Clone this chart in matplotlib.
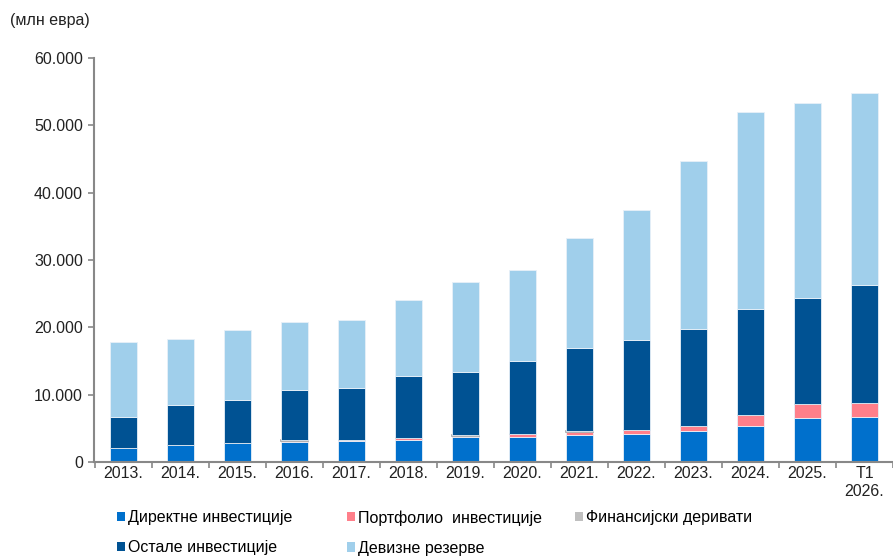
import numpy as np
import matplotlib.pyplot as plt
from matplotlib.ticker import FuncFormatter

plt.rcParams['font.family'] = ['Liberation Sans', 'DejaVu Sans']

years = ["2013.", "2014.", "2015.", "2016.", "2017.", "2018.", "2019.",
         "2020.", "2021.", "2022.", "2023.", "2024.", "2025.", "T1\n2026."]

# млн евра
direct = [2070, 2470, 2810, 2910, 3110, 3310, 3700, 3650, 4050, 4200, 4590, 5330, 6470, 6670]
portfolio = [20, 10, 30, 250, 100, 250, 200, 480, 440, 490, 690, 1680, 2070, 2070]
derivatives = [40, 40, 40, 40, 40, 40, 40, 40, 40, 40, 40, 40, 40, 40]
other = [4540, 5880, 6310, 7470, 7810, 9140, 9390, 10890, 12410, 13390, 14480, 15620, 15820, 17440]
reserves = [11210, 9870, 10410, 10070, 10080, 11260, 13340, 13480, 16340, 19360, 24890, 29280, 28880, 28590]

series = [
    ("Директне инвестиције", direct, "#0070CC"),
    ("Портфолио  инвестиције", portfolio, "#FF7F8A"),
    ("Финансијски деривати", derivatives, "#BFBFBF"),
    ("Остале инвестиције", other, "#005293"),
    ("Девизне резерве", reserves, "#A0CFEB"),
]

FS = 11.5

fig = plt.figure(figsize=(8.93, 5.56), dpi=100)
ax = fig.add_axes([94 / 893, 1 - 462 / 556, 1 - 94 / 893, (462 - 58) / 556])

x = np.arange(len(years))
bottom = np.zeros(len(years))
handles = []
for name, vals, col in series:
    ec = "#A6A6A6" if col == "#BFBFBF" else "#E8F0F8"
    lw = 1.2 if col == "#BFBFBF" else 0.6
    b = ax.bar(x, vals, width=0.48, bottom=bottom, color=col, edgecolor=ec,
               linewidth=lw, label=name)
    handles.append(b)
    bottom += np.array(vals)

ax.set_ylim(0, 60000)
ax.set_xlim(-0.52, 13.45)
ax.set_yticks(np.arange(0, 60001, 10000))
ax.yaxis.set_major_formatter(FuncFormatter(lambda v, p: f"{int(v):,}".replace(",", ".")))
ax.set_xticks(x)
ax.set_xticklabels(years)
ax.set_xticks(np.arange(-0.5, 13.6, 1), minor=True)
ax.tick_params(axis="x", which="major", length=0, pad=3, labelsize=FS, colors="#222222")
ax.tick_params(axis="x", which="minor", length=4, width=1.2, color="#888888", direction="out")
ax.tick_params(axis="y", length=4, width=1.2, color="#888888", labelsize=FS,
               labelcolor="#222222", pad=4)

for s in ["top", "right"]:
    ax.spines[s].set_visible(False)
for s in ["left", "bottom"]:
    ax.spines[s].set_color("#888888")
    ax.spines[s].set_linewidth(1.5)

fig.text(10 / 893, 1 - 20 / 556, "(млн евра)", fontsize=FS, color="#222222",
         va="center", ha="left")

# legend: one small legend per column so the columns sit where the original has them
cols = [([0, 3], 117), ([1, 4], 347), ([2], 575)]
for idx, xpix in cols:
    leg = fig.legend([handles[i] for i in idx], [series[i][0] for i in idx],
                     loc="upper left", bbox_to_anchor=(xpix / 893, 1 - 510 / 556),
                     frameon=False, fontsize=FS, handlelength=0.5, handleheight=0.5,
                     handletextpad=0.2, labelspacing=0.95,
                     borderaxespad=0, borderpad=0)
    for h in leg.legend_handles:
        h.set_edgecolor("none")

fig.savefig("out.png", dpi=100)
